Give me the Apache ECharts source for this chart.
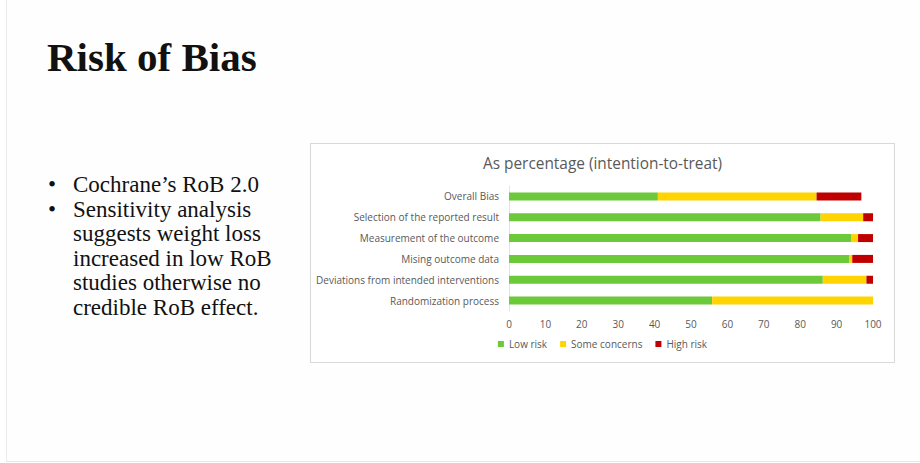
<!DOCTYPE html>
<html>
<head>
<meta charset="utf-8">
<script src="https://cdn.jsdelivr.net/npm/echarts@6/dist/echarts.min.js"></script>
<style>
  html, body { margin: 0; padding: 0; width: 920px; height: 463px; background: #ffffff; overflow: hidden; }
  #slide { position: absolute; left: 6px; top: 0; width: 914px; height: 461px; border-left: 1px solid #ececec; border-bottom: 1px solid #e6e6e6; background: #fefefe; }
  #heading { position: absolute; left: 40px; top: 33px; font: bold 41px "Liberation Serif", "Times New Roman", serif; color: #111; margin: 0; white-space: nowrap; }
  #bullets { position: absolute; left: 41px; top: 173px; margin: 0; padding: 0; list-style: none; font: 23px/24.6px "Liberation Serif", "Times New Roman", serif; color: #111; white-space: nowrap; }
  #bullets li { position: relative; padding-left: 25px; }
  #bullets li::before { content: "\2022"; position: absolute; left: 0; }
  #box { position: absolute; left: 310px; top: 143px; width: 583px; height: 218px; border: 1px solid #d9d9d9; background: #fff; }
  #main { width: 583px; height: 218px; }
</style>
</head>
<body>
<div id="slide">
  <h1 id="heading">Risk of Bias</h1>
  <ul id="bullets">
    <li>Cochrane’s RoB 2.0</li>
    <li>Sensitivity analysis<br>suggests weight loss<br>increased in low RoB<br>studies otherwise no<br>credible RoB effect.</li>
  </ul>
</div>
<div id="box"><div id="main"></div></div>
<script>
// domains, bottom to top as drawn on the axis
var domains = ['Randomization process', 'Deviations from intended interventions', 'Mising outcome data',
  'Measurement of the outcome', 'Selection of the reported result', 'Overall Bias'];
var lowRisk = [55.8, 86.2, 93.4, 94.1, 85.6, 40.9];
var someConcerns = [44.2, 12.0, 0.9, 1.8, 11.7, 43.6];
var highRisk = [0, 1.8, 5.7, 4.1, 2.7, 12.3];
var xTicks = [0, 100, 10];

var chart = echarts.init(document.getElementById('main'), null, { renderer: 'svg' });
var labelFont = 'Open Sans, Lato, sans-serif';

function bar(name, data, color) {
  return {
    name: name,
    type: 'bar',
    stack: 'rob',
    barWidth: 8,
    itemStyle: { color: color },
    data: data
  };
}

chart.setOption({
  animation: false,
  title: {
    text: 'As percentage (intention-to-treat)',
    left: 'center',
    top: 7,
    textStyle: { fontFamily: labelFont, fontSize: 15.4, fontWeight: 'normal', color: '#595959' }
  },
  legend: {
    bottom: 8,
    left: 'center',
    itemWidth: 6,
    itemHeight: 6,
    itemGap: 13,
    icon: 'rect',
    textStyle: { fontFamily: labelFont, fontSize: 10, color: '#595959' },
    data: ['Low risk', 'Some concerns', 'High risk']
  },
  grid: { left: 198, right: 21, top: 42, bottom: 51, containLabel: false },
  xAxis: {
    type: 'value',
    min: xTicks[0],
    max: xTicks[1],
    interval: xTicks[2],
    axisLine: { show: false },
    axisTick: { show: false },
    splitLine: { show: false },
    axisLabel: { fontFamily: labelFont, fontSize: 10, color: '#595959', margin: 8 }
  },
  yAxis: {
    type: 'category',
    data: domains,
    axisLine: { show: true, lineStyle: { color: '#e3e3e3' } },
    axisTick: { show: false },
    axisLabel: { fontFamily: labelFont, fontSize: 10, color: '#595959', margin: 10 }
  },
  series: [
    bar('Low risk', lowRisk, '#6cc93a'),
    bar('Some concerns', someConcerns, '#ffd400'),
    bar('High risk', highRisk, '#c00000')
  ]
});
</script>
</body>
</html>
